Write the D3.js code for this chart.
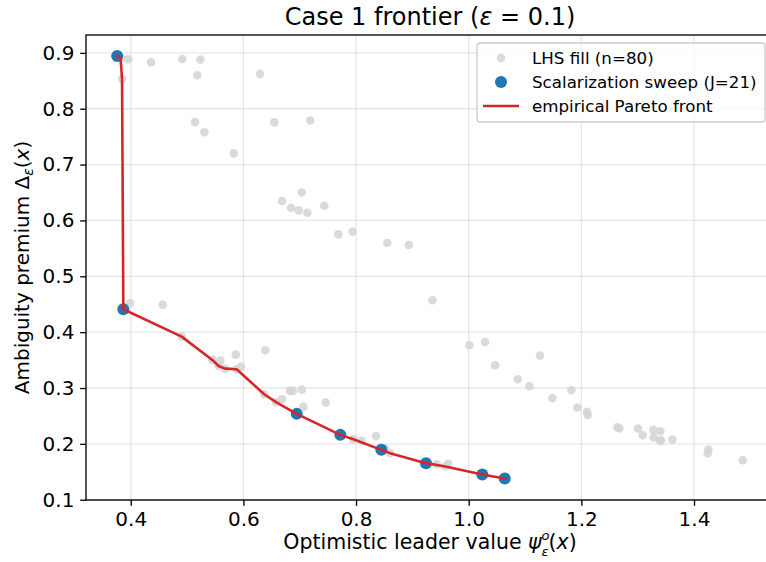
<!DOCTYPE html>
<html><head><meta charset="utf-8">
<script src="https://cdn.jsdelivr.net/npm/d3@7/dist/d3.min.js"></script>
<style>body{margin:0;background:#fff}svg{display:block;font-family:"DejaVu Sans",sans-serif}</style>
</head><body>
<svg id="c" width="766" height="562"></svg>
<script>
// LHS fill points (grey)
const lhsX = [0.3957,0.436,0.4916,0.5236,0.3846,0.5182,0.6295,0.514,0.655,0.7188,0.5307,0.5829,0.7036,0.6686,0.6846,0.6982,0.7135,0.7437,0.7686,0.794,
  0.3988,0.4568,0.4905,0.5864,0.639,0.8555,0.894,0.9354,1.001,1.029,1.1266,1.0467,1.087,1.1076,1.1485,1.1823,1.1929,1.210,1.2113,1.2638,
  1.2674,1.3006,1.3089,1.3278,1.340,1.3285,1.340,1.3615,1.4254,1.4243,1.4865,0.9432,0.9638,0.9585,0.5449,0.559,0.556,0.5674,0.5958,0.6372,
  0.658,0.6686,0.6828,0.6876,0.7036,0.7064,0.7462,0.7952,0.810,0.8355,0.8603,0.382,1.3415,0.588,0.8514];
const lhsY = [0.8887,0.883,0.889,0.888,0.8535,0.860,0.8624,0.776,0.7755,0.779,0.758,0.720,0.650,0.6347,0.6227,0.618,0.6138,0.6263,0.575,0.5798,
  0.4517,0.449,0.392,0.3597,0.3676,0.5596,0.556,0.457,0.3766,0.3825,0.358,0.3408,0.3157,0.3032,0.2818,0.296,0.265,0.2572,0.2519,0.2298,
  0.2274,0.2274,0.2156,0.225,0.2227,0.2113,0.2054,0.2077,0.1898,0.1834,0.1708,0.1637,0.1642,0.1594,0.3503,0.349,0.3395,0.3347,0.3383,0.2889,
  0.2746,0.280,0.2948,0.2948,0.2971,0.2662,0.2739,0.2084,0.2054,0.2138,0.1834,0.891,0.2065,0.3336,0.1923];
// Scalarization sweep points (blue)
const sweepX = [0.376,0.3869,0.6947,0.7721,0.8449,0.9242,1.0242,1.064];
const sweepY = [0.8946,0.441,0.2537,0.2161,0.1893,0.1655,0.1451,0.138];
// Empirical Pareto front
const frontX = [0.376,0.382,0.3846,0.3869,0.4905,0.5449,0.556,0.5674,0.588,0.637,0.658,0.6947,0.7721,0.7952,0.8449,0.8603,0.9242,0.9585,1.0242,1.064];
const frontY = [0.8946,0.891,0.8535,0.441,0.392,0.3503,0.3395,0.3347,0.3336,0.2889,0.2746,0.2537,0.2161,0.2084,0.1893,0.1834,0.1655,0.1594,0.1451,0.138];
const xTicks = [0.4,0.6,0.8,1.0,1.2,1.4];
const yTicks = [0.1,0.2,0.3,0.4,0.5,0.6,0.7,0.8,0.9];

const L=86, T=35, R=774, B=500;
const svg = d3.select("#c");
const x = d3.scaleLinear().domain([0.3206,1.542]).range([L,R]);
const y = d3.scaleLinear().domain([0.0995,0.932]).range([B,T]);

svg.append("defs").append("clipPath").attr("id","clip").append("rect")
  .attr("x",L).attr("y",T).attr("width",R-L).attr("height",B-T);

// grid
const g = svg.append("g");
g.selectAll(".gx").data(xTicks).join("line").attr("x1",d=>x(d)).attr("x2",d=>x(d))
  .attr("y1",T).attr("y2",B).attr("stroke","#b0b0b0").attr("stroke-opacity",0.3).attr("stroke-width",1.33);
g.selectAll(".gy").data(yTicks).join("line").attr("y1",d=>y(d)).attr("y2",d=>y(d))
  .attr("x1",L).attr("x2",R).attr("stroke","#b0b0b0").attr("stroke-opacity",0.3).attr("stroke-width",1.33);

const plot = svg.append("g").attr("clip-path","url(#clip)");
plot.selectAll(".lhs").data(lhsX.map((v,i)=>[v,lhsY[i]])).join("circle")
  .attr("cx",d=>x(d[0])).attr("cy",d=>y(d[1])).attr("r",4.3).attr("fill","#d3d3d3").attr("fill-opacity",0.85);
plot.selectAll(".sw").data(sweepX.map((v,i)=>[v,sweepY[i]])).join("circle")
  .attr("cx",d=>x(d[0])).attr("cy",d=>y(d[1])).attr("r",6).attr("fill","#1f77b4");
plot.append("path").datum(frontX.map((v,i)=>[v,frontY[i]]))
  .attr("d",d3.line().x(d=>x(d[0])).y(d=>y(d[1])))
  .attr("fill","none").attr("stroke","#d62728").attr("stroke-width",2.6).attr("stroke-linejoin","round").attr("stroke-linecap","square");

// axes
const xa = svg.append("g").attr("transform",`translate(0,${B})`)
  .call(d3.axisBottom(x).tickValues(xTicks).tickFormat(d3.format(".1f")).tickSize(5.8).tickPadding(5.8));
const ya = svg.append("g").attr("transform",`translate(${L},0)`)
  .call(d3.axisLeft(y).tickValues(yTicks).tickFormat(d3.format(".1f")).tickSize(5.8).tickPadding(5.8));
[xa,ya].forEach(a=>{
  a.select(".domain").remove();
  a.selectAll(".tick line").attr("stroke","#000").attr("stroke-width",1.33);
  a.selectAll(".tick text").attr("font-size",20).attr("fill","#000").attr("font-family","DejaVu Sans");
});
// spines
svg.append("rect").attr("x",L).attr("y",T).attr("width",R-L).attr("height",B-T)
  .attr("fill","none").attr("stroke","#000").attr("stroke-width",1.33);

// title
const t = svg.append("text").attr("x",430).attr("y",25).attr("text-anchor","middle").attr("font-size",24);
t.append("tspan").text("Case 1 frontier (");
t.append("tspan").attr("font-style","italic").text("ε");
t.append("tspan").text(" = 0.1)");

// x label
const xl = svg.append("text").attr("x",430).attr("y",549).attr("text-anchor","middle").attr("font-size",20.5);
xl.append("tspan").text("Optimistic leader value ");
xl.append("tspan").attr("font-style","italic").text("ψ");
xl.append("tspan").attr("font-style","italic").attr("font-size",13).attr("dy",-9).text("o");
xl.append("tspan").attr("font-style","italic").attr("font-size",13).attr("dx",-8).attr("dy",15.5).text("ε");
xl.append("tspan").attr("dy",-6.5).text("(");
xl.append("tspan").attr("font-style","italic").text("x");
xl.append("tspan").text(")");

// y label
const yl = svg.append("text").attr("transform",`translate(29,${(T+B)/2}) rotate(-90)`).attr("text-anchor","middle").attr("font-size",20);
yl.append("tspan").text("Ambiguity premium Δ");
yl.append("tspan").attr("font-style","italic").attr("font-size",14).attr("dy",4).text("ε");
yl.append("tspan").attr("dy",-4).text("(");
yl.append("tspan").attr("font-style","italic").text("x");
yl.append("tspan").text(")");

// legend
const lg = svg.append("g");
lg.append("rect").attr("x",477).attr("y",43).attr("width",288).attr("height",79).attr("rx",3)
  .attr("fill","#fff").attr("fill-opacity",0.8).attr("stroke","#cccccc").attr("stroke-width",1.33);
const rows = [{lab:"LHS fill (n=80)",type:"lhs"},{lab:"Scalarization sweep (J=21)",type:"sw"},{lab:"empirical Pareto front",type:"front"}];
rows.forEach((r,i)=>{
  const cy = 58 + i*24;
  if(r.type==="lhs") lg.append("circle").attr("cx",501).attr("cy",cy).attr("r",4.3).attr("fill","#d3d3d3").attr("fill-opacity",0.85);
  if(r.type==="sw") lg.append("circle").attr("cx",501).attr("cy",cy).attr("r",6).attr("fill","#1f77b4");
  if(r.type==="front") lg.append("line").attr("x1",483).attr("x2",519).attr("y1",cy).attr("y2",cy).attr("stroke","#d62728").attr("stroke-width",2.6);
  lg.append("text").attr("x",532).attr("y",cy+6).attr("font-size",16.7).text(r.lab);
});
</script>
</body></html>
